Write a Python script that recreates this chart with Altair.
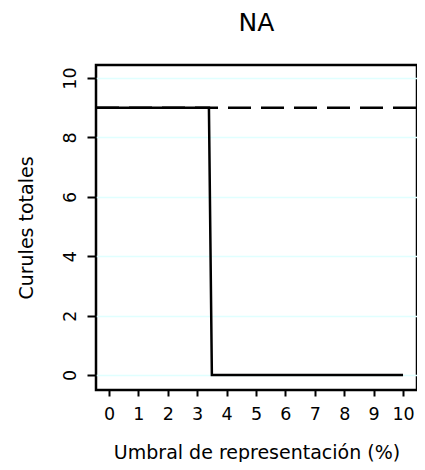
import altair as alt
import pandas as pd

# Data
x_domain = [-0.44, 10.475]
y_domain = [-0.505, 10.44]
x_ticks = [0, 1, 2, 3, 4, 5, 6, 7, 8, 9, 10]
y_ticks = [0, 2, 4, 6, 8, 10]

solid_x = [-0.44, 3.4, 3.5, 10.0]
solid_y = [9, 9, 0, 0]
dashed_x = [-0.44, 10.475]
dashed_y = [9, 9]

solid = pd.DataFrame({"x": solid_x, "y": solid_y, "o": range(len(solid_x))})
dashed = pd.DataFrame({"x": dashed_x, "y": dashed_y, "o": range(len(dashed_x))})

FONT = "DejaVu Sans"

xenc = alt.X(
    "x:Q",
    scale=alt.Scale(domain=x_domain, nice=False, zero=False),
    axis=alt.Axis(
        values=x_ticks,
        title="Umbral de representación (%)",
        grid=False,
        domain=False,
        tickColor="black",
        tickWidth=2,
        tickSize=6,
        labelFont=FONT,
        labelFontSize=17.5,
        labelColor="black",
        labelPadding=9,
        labelFlush=False,
        labelOverlap=False,
        titleFont=FONT,
        titleFontSize=19,
        titleFontWeight="normal",
        titleColor="black",
        titleBaseline="alphabetic",
        titleY=68,
    ),
)
yenc = alt.Y(
    "y:Q",
    scale=alt.Scale(domain=y_domain, nice=False, zero=False),
    axis=alt.Axis(
        values=y_ticks,
        title="Curules totales",
        grid=True,
        gridColor="#e0ffff",
        gridWidth=1.5,
        domain=False,
        tickColor="black",
        tickWidth=2,
        tickSize=9,
        labelFont=FONT,
        labelFontSize=17.5,
        labelColor="black",
        labelAngle=270,
        labelAlign="center",
        labelBaseline="alphabetic",
        labelPadding=12,
        labelFlush=False,
        labelOverlap=False,
        titleFont=FONT,
        titleFontSize=19,
        titleFontWeight="normal",
        titleColor="black",
        titleAngle=270,
        titleBaseline="alphabetic",
        titleX=-64,
    ),
)

dashed_line = alt.Chart(dashed).mark_line(
    color="black", strokeWidth=2.5, strokeDash=[23, 10], clip=True
).encode(x=xenc, y=yenc, order="o:Q")

solid_line = alt.Chart(solid).mark_line(
    color="black", strokeWidth=2.5, clip=True
).encode(x=xenc, y=yenc, order="o:Q")

chart = (
    alt.layer(dashed_line, solid_line)
    .properties(
        width=321,
        height=325,
        background="white",
        autosize=alt.AutoSizeParams(type="none"),
        padding={"left": 88, "top": 57, "right": 0, "bottom": 72},
        title=alt.TitleParams(
            "NA",
            font=FONT,
            fontSize=25,
            fontWeight="normal",
            color="black",
            anchor="middle",
            baseline="alphabetic",
            frame="group",
            offset=9,
        ),
    )
    .configure_view(stroke="black", strokeWidth=2.5)
)

chart.save("out.html", embed_options={"renderer": "svg", "actions": False})
